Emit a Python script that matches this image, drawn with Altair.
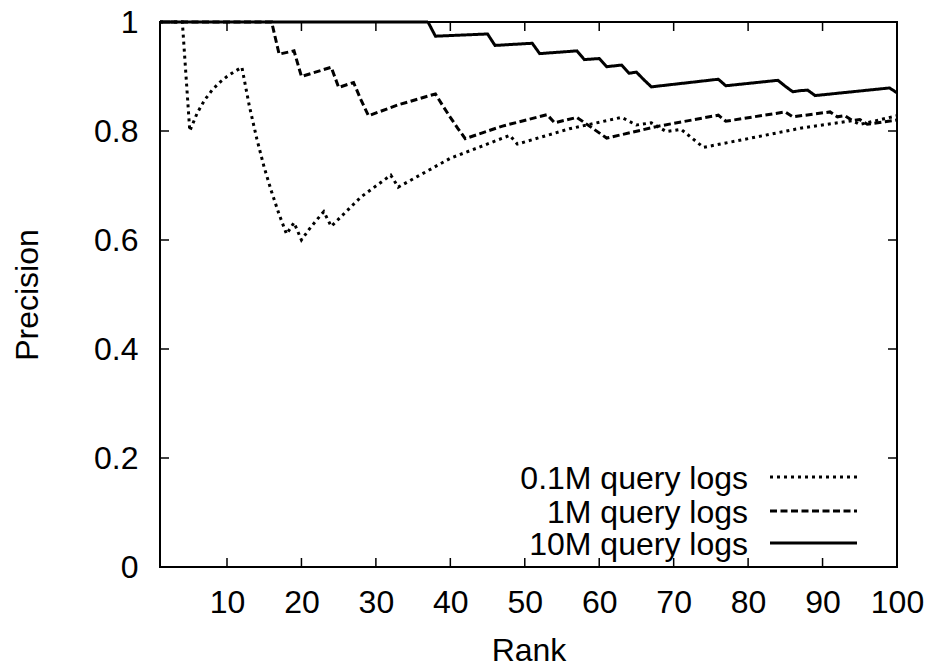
import altair as alt
import pandas as pd

# ---- data ----
series_labels = ["0.1M query logs", "1M query logs", "10M query logs"]

rank_01m = [1, 4, 5, 6, 7, 8, 9, 10, 11, 12, 13, 14, 15, 16, 17, 18, 19, 20, 21, 22, 23, 24,
            28, 32, 33, 40, 48, 49, 56, 63, 65, 67, 69, 71, 74, 80, 87, 94, 95, 100]
prec_01m = [1, 1, 0.8, 0.833, 0.857, 0.875, 0.889, 0.9, 0.909, 0.917, 0.846, 0.786, 0.733, 0.688,
            0.647, 0.611, 0.632, 0.6, 0.619, 0.636, 0.652, 0.625,
            0.679, 0.719, 0.697, 0.75, 0.792, 0.776, 0.804, 0.825, 0.811, 0.815, 0.799, 0.803,
            0.77, 0.786, 0.805, 0.819, 0.812, 0.828]

rank_1m = [1, 16, 17, 19, 20, 24, 25, 27, 28, 29, 33, 38, 39, 40, 41, 42, 47, 53, 54, 57, 61,
           68, 76, 77, 85, 86, 91, 92, 93, 94, 95, 96, 100]
prec_1m = [1, 1, 0.941, 0.947, 0.9, 0.917, 0.88, 0.889, 0.857, 0.828, 0.848, 0.868, 0.846, 0.825,
           0.805, 0.786, 0.809, 0.830, 0.815, 0.825, 0.787, 0.809, 0.829, 0.818, 0.835, 0.826,
           0.835, 0.826, 0.828, 0.819, 0.821, 0.8125, 0.82]

rank_10m = [1, 37, 38, 45, 46, 51, 52, 57, 58, 60, 61, 63, 64, 65, 66, 67, 76, 77, 84, 85, 86,
            87, 88, 89, 99, 100]
prec_10m = [1, 1, 0.974, 0.978, 0.957, 0.961, 0.942, 0.947, 0.931, 0.933, 0.918, 0.921, 0.906,
            0.908, 0.894, 0.881, 0.895, 0.883, 0.893, 0.882, 0.872, 0.874, 0.875, 0.865, 0.879,
            0.87]

x_ticks = [10, 20, 30, 40, 50, 60, 70, 80, 90, 100]
y_ticks = [0, 0.2, 0.4, 0.6, 0.8, 1]

# ---- layout / style ----
W, H = 737, 545
FONT = "Liberation Sans"
FS = 32
TICK = 9
dashes = [[3, 4], [7, 3.5], [1, 0]]
leg_y = [455, 489, 521]

x_axis = alt.Axis(title="Rank", values=x_ticks, labelFlush=False, labelOverlap=False,
                  labelPadding=20, tickSize=0, titleY=93, titleBaseline="alphabetic")
y_axis = alt.Axis(title="Precision", values=y_ticks, format="~g", labelFlush=False,
                  labelOverlap=False, labelPadding=22, tickSize=0, titleX=-123,
                  titleBaseline="alphabetic")
xs = alt.Scale(domain=[1, 100], nice=False, zero=False)
ys = alt.Scale(domain=[0, 1], nice=False, zero=False)


def X():
    return alt.X("rank:Q", scale=xs, axis=x_axis)


def Y():
    return alt.Y("precision:Q", scale=ys, axis=y_axis)


layers = []
all_series = [(rank_01m, prec_01m), (rank_1m, prec_1m), (rank_10m, prec_10m)]
for i, (r, p) in enumerate(all_series):
    df = pd.DataFrame({"rank": r, "precision": p})
    layers.append(
        alt.Chart(df).mark_line(color="black", strokeWidth=3, strokeDash=dashes[i])
        .encode(x=X(), y=Y())
    )

# inward ticks (gnuplot style), bottom/top and left/right
xt = pd.DataFrame({"rank": x_ticks})
yt = pd.DataFrame({"precision": y_ticks[1:-1]})
layers.append(alt.Chart(xt).mark_rule(color="black", strokeWidth=1.5)
              .encode(x=X(), y=alt.value(H), y2=alt.value(H - TICK)))
layers.append(alt.Chart(xt).mark_rule(color="black", strokeWidth=1.5)
              .encode(x=X(), y=alt.value(0), y2=alt.value(TICK)))
layers.append(alt.Chart(yt).mark_rule(color="black", strokeWidth=1.5)
              .encode(y=Y(), x=alt.value(0), x2=alt.value(TICK)))
layers.append(alt.Chart(yt).mark_rule(color="black", strokeWidth=1.5)
              .encode(y=Y(), x=alt.value(W), x2=alt.value(W - TICK)))

# legend (label left, sample right)
for i, lab in enumerate(series_labels):
    ld = pd.DataFrame({"label": [lab]})
    layers.append(alt.Chart(ld).mark_text(align="right", baseline="middle", font=FONT,
                                           fontSize=FS, color="black")
                  .encode(text="label:N", x=alt.value(588), y=alt.value(leg_y[i] + 2)))
    layers.append(alt.Chart(ld).mark_rule(color="black", strokeWidth=3, strokeDash=dashes[i])
                  .encode(x=alt.value(610), x2=alt.value(697), y=alt.value(leg_y[i])))

chart = (
    alt.layer(*layers)
    .properties(width=W, height=H,
                padding={"left": 160, "top": 22, "right": 34, "bottom": 99},
                autosize=alt.AutoSizeParams(type="none"))
    .configure_view(stroke="black", strokeWidth=2)
    .configure_axis(grid=False, domain=False, ticks=False,
                    labelFont=FONT, labelFontSize=FS, labelColor="black",
                    titleFont=FONT, titleFontSize=FS, titleFontWeight="normal",
                    titleColor="black")
)

chart.save("out.html", embed_options={"renderer": "svg", "actions": False})
